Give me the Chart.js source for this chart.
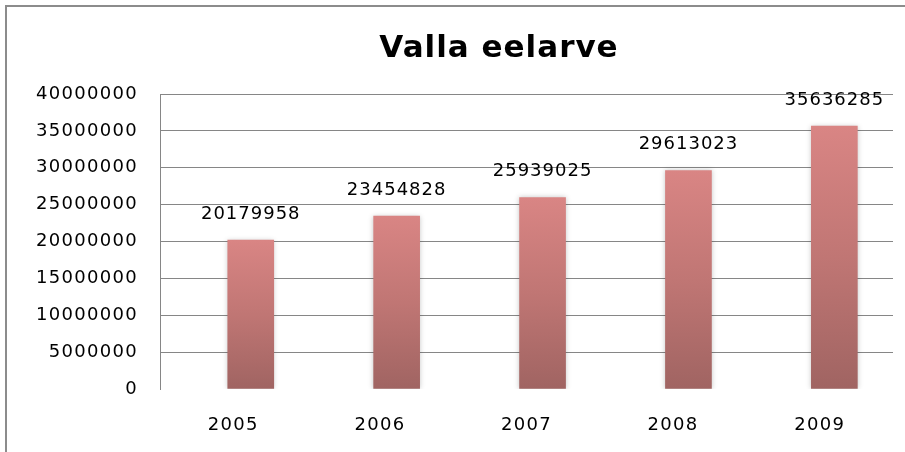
<!DOCTYPE html>
<html><head><meta charset="utf-8">
<script src="https://cdn.jsdelivr.net/npm/chart.js@4.4.1/dist/chart.umd.min.js"></script>
<style>
html,body{margin:0;padding:0;background:#fff;overflow:hidden}
#wrap{position:relative;width:905px;height:452px;overflow:hidden}
#frame{position:absolute;left:5px;top:5px;width:920px;height:470px;border-left:2px solid #8c8c8c;border-top:2px solid #8c8c8c;pointer-events:none}
canvas{position:absolute;left:0;top:0}
</style></head>
<body><div id="wrap"><canvas id="c" width="905" height="452"></canvas><div id="frame"></div></div>
<script>
const title = 'Valla eelarve';
const years = ['2005', '2006', '2007', '2008', '2009'];
const values = [20179958, 23454828, 25939025, 29613023, 35636285];
const yTicks = [0, 5000000, 10000000, 15000000, 20000000, 25000000, 30000000, 35000000, 40000000];

const FONT = '"DejaVu Sans", Verdana, sans-serif';

const spacing = {
  id: 'spacing',
  beforeUpdate(chart) { chart.ctx.letterSpacing = '1.3px'; },
  beforeDraw(chart) { chart.ctx.letterSpacing = '1.3px'; }
};

const titlePlugin = {
  id: 'titleText',
  afterDraw(chart) {
    const c = chart.ctx;
    c.save();
    c.letterSpacing = '1px';
    c.font = 'bold 31px ' + FONT;
    c.fillStyle = '#000';
    c.textAlign = 'center';
    c.textBaseline = 'alphabetic';
    c.fillText(title, 499, 57);
    c.restore();
  }
};

const shadow = {
  id: 'shadow',
  beforeDatasetDraw(chart) {
    const c = chart.ctx; c.save();
    c.shadowColor = 'rgba(0,0,0,0.22)'; c.shadowBlur = 5; c.shadowOffsetX = 0; c.shadowOffsetY = 0;
  },
  afterDatasetDraw(chart) { chart.ctx.restore(); }
};

const valueLabels = {
  id: 'valueLabels',
  afterDatasetsDraw(chart) {
    const c = chart.ctx;
    const meta = chart.getDatasetMeta(0);
    c.save();
    c.letterSpacing = '1px';
    c.font = '18px ' + FONT;
    c.fillStyle = '#000';
    c.textAlign = 'center';
    c.textBaseline = 'middle';
    meta.data.forEach((el, i) => {
      c.fillText(String(values[i]), el.x, el.y - 26);
    });
    c.restore();
  }
};

function barGradient(ctx) {
  const chart = ctx.chart;
  const y = chart.scales.y;
  if (!y || !chart.chartArea || ctx.raw == null) return '#c77a78';
  const v = typeof ctx.raw === 'object' ? ctx.raw.y : ctx.raw;
  const top = y.getPixelForValue(v);
  const bottom = y.getPixelForValue(0);
  if (!isFinite(top) || !isFinite(bottom) || top === bottom) return '#c77a78';
  const g = chart.ctx.createLinearGradient(0, top, 0, bottom);
  g.addColorStop(0, '#d98584');
  g.addColorStop(0.5, '#c07674');
  g.addColorStop(1, '#a06462');
  return g;
}

new Chart(document.getElementById('c'), {
  type: 'bar',
  data: {
    labels: years,
    datasets: [{
      data: values.map((v, i) => ({ x: i, y: v })),
      xAxisID: 'xb',
      yAxisID: 'y',
      backgroundColor: barGradient,
      borderWidth: 0,
      barThickness: 46
    }]
  },
  options: {
    responsive: false,
    animation: false,
    layout: { padding: { left: 0, right: 12, top: 94, bottom: 0 } },
    plugins: {
      legend: { display: false },
      tooltip: { enabled: false },
      title: { display: false }
    },
    scales: {
      xb: {
        type: 'linear',
        display: false,
        min: -0.622,
        max: 4.402,
        offset: false
      },
      x: {
        type: 'category',
        position: 'bottom',
        offset: true,
        grid: { display: false, drawTicks: false },
        border: { display: false },
        ticks: { color: '#000', font: { family: FONT, size: 18 }, padding: 26, maxRotation: 0, autoSkip: false },
        afterFit(s) { s.height = 63; }
      },
      y: {
        type: 'linear',
        min: 0,
        max: 40000000,
        afterBuildTicks(s) { s.ticks = yTicks.map(v => ({ value: v })); },
        grid: {
          drawTicks: false,
          color: (c) => (c.tick && c.tick.value === 0) ? 'rgba(0,0,0,0)' : '#868686',
          lineWidth: 1
        },
        border: { display: true, color: '#868686', width: 1 },
        ticks: {
          color: '#000',
          font: { family: FONT, size: 18 },
          padding: 22,
          callback: (v) => String(v)
        },
        afterFit(s) { s.width = 160; }
      }
    }
  },
  plugins: [spacing, shadow, valueLabels, titlePlugin]
});
</script>
</body></html>
